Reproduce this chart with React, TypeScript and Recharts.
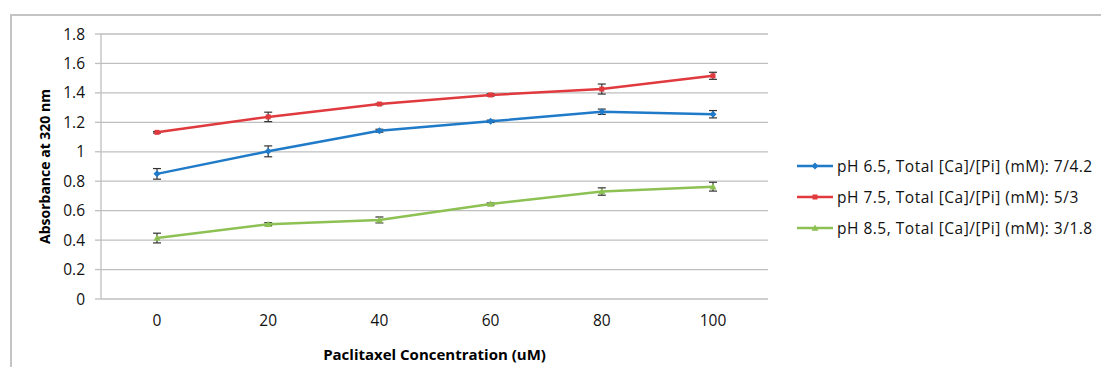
import React from 'react';
import {
  LineChart,
  Line,
  XAxis,
  YAxis,
  CartesianGrid,
  Legend,
  ErrorBar,
} from 'recharts';

// paclitaxel concentration (uM)
const concentrations = ['0', '20', '40', '60', '80', '100'];

const ph65 = [0.85, 1.003, 1.143, 1.207, 1.272, 1.255];
const ph65Err = [0.036, 0.037, 0.01, 0.008, 0.018, 0.025];

const ph75 = [1.132, 1.237, 1.324, 1.386, 1.426, 1.516];
const ph75Err = [0.005, 0.032, 0.005, 0.008, 0.034, 0.024];

const ph85 = [0.414, 0.508, 0.537, 0.645, 0.73, 0.763];
const ph85Err = [0.033, 0.01, 0.02, 0.007, 0.025, 0.03];

const yTicks = [0, 0.2, 0.4, 0.6, 0.8, 1, 1.2, 1.4, 1.6, 1.8];

const series = [
  { key: 'ph65', name: 'pH 6.5, Total [Ca]/[Pi] (mM): 7/4.2', color: '#1f7ac8', shape: 'diamond' },
  { key: 'ph75', name: 'pH 7.5, Total [Ca]/[Pi] (mM): 5/3', color: '#e0393e', shape: 'square' },
  { key: 'ph85', name: 'pH 8.5, Total [Ca]/[Pi] (mM): 3/1.8', color: '#8dc153', shape: 'triangle' },
];

const data = concentrations.map((c, i) => ({
  conc: c,
  ph65: ph65[i],
  ph65Err: ph65Err[i],
  ph75: ph75[i],
  ph75Err: ph75Err[i],
  ph85: ph85[i],
  ph85Err: ph85Err[i],
}));

const FONT = '"Open Sans", Lato, sans-serif';

function Marker({ cx, cy, shape, color }: { cx: number; cy: number; shape: string; color: string }) {
  if (cx == null || cy == null) return null;
  if (shape === 'diamond') {
    const r = 3.5;
    return <path d={`M${cx},${cy - r}L${cx + r},${cy}L${cx},${cy + r}L${cx - r},${cy}Z`} fill={color} />;
  }
  if (shape === 'square') {
    return <rect x={cx - 2.5} y={cy - 2.5} width={5} height={5} fill={color} />;
  }
  const r = 3.5;
  return <path d={`M${cx},${cy - r}L${cx + r},${cy + r * 0.8}L${cx - r},${cy + r * 0.8}Z`} fill={color} />;
}

function LegendContent() {
  return (
    <div style={{ fontFamily: FONT, fontSize: 15.5, letterSpacing: 0.5, color: '#111' }}>
      {series.map((s) => (
        <div key={s.key} style={{ display: 'flex', alignItems: 'center', height: 31 }}>
          <svg width={40} height={10} style={{ marginRight: 1 }}>
            <line x1={1} y1={5} x2={37} y2={5} stroke={s.color} strokeWidth={2.5} />
            <Marker cx={19} cy={5} shape={s.shape} color={s.color} />
          </svg>
          <span style={{ whiteSpace: 'nowrap' }}>{s.name}</span>
        </div>
      ))}
    </div>
  );
}

export default function App() {
  return (
    <div
      style={{
        position: 'absolute',
        left: 0,
        top: 0,
        width: 1101,
        height: 367,
        background: '#fff',
      }}
    >
      <div
        style={{
          position: 'absolute',
          left: 10,
          top: 14,
          right: 0,
          bottom: 0,
          borderTop: '2px solid #c4c4c4',
          borderLeft: '2px solid #c4c4c4',
        }}
      />
      <LineChart
        width={1101}
        height={367}
        data={data}
        margin={{ top: 34, right: 333, left: 0, bottom: 0 }}
        style={{ fontFamily: FONT }}
      >
        <CartesianGrid vertical={false} stroke="#bfbfbf" strokeWidth={1.3} />
        <XAxis
          dataKey="conc"
          height={68}
          padding={{ left: 56, right: 55 }}
          axisLine={false}
          tickLine={false}
          tickSize={0}
          tickMargin={16}
          tick={{ fill: '#111', fontSize: 15.5, fontFamily: FONT }}
          label={{
            value: 'Paclitaxel Concentration (uM)',
            position: 'insideBottom',
            offset: 7,
            style: { fontWeight: 700, fontSize: 15, fill: '#000', fontFamily: FONT },
          }}
        />
        <YAxis
          width={101}
          domain={[0, 1.8]}
          ticks={yTicks}
          interval={0}
          axisLine={{ stroke: '#bfbfbf', strokeWidth: 1.3 }}
          tickLine={{ stroke: '#bfbfbf', strokeWidth: 1.3 }}
          tickSize={6}
          tickMargin={10}
          tick={{ fill: '#111', fontSize: 15.5, fontFamily: FONT }}
          label={{
            value: 'Absorbance at 320 nm',
            angle: -90,
            position: 'insideLeft',
            offset: 45,
            style: { textAnchor: 'middle', fontWeight: 700, fontSize: 14, fill: '#000', fontFamily: FONT },
          }}
        />
        <Legend
          layout="vertical"
          align="center"
          verticalAlign="middle"
          wrapperStyle={{ left: 796, top: 150, width: 305 }}
          content={<LegendContent />}
        />
        {series.map((s) => (
          <Line
            key={s.key}
            dataKey={s.key}
            name={s.name}
            stroke={s.color}
            strokeWidth={2.5}
            isAnimationActive={false}
            dot={(p: any) => <Marker key={`${s.key}-${p.index}`} cx={p.cx} cy={p.cy} shape={s.shape} color={s.color} />}
            activeDot={false}
          >
            <ErrorBar
              dataKey={`${s.key}Err`}
              width={4}
              stroke="#333"
              strokeWidth={1.2}
              isAnimationActive={false}
            />
          </Line>
        ))}
      </LineChart>
    </div>
  );
}
